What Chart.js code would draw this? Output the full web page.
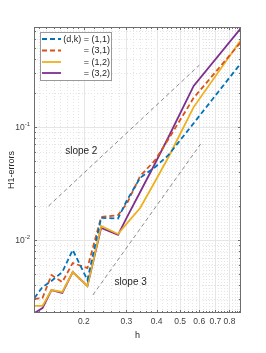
<!DOCTYPE html>
<html>
<head>
<meta charset="utf-8">
<script src="https://cdn.jsdelivr.net/npm/chart.js@4.4.0/dist/chart.umd.min.js"></script>
<style>
  body { margin: 0; background: #fff; }
  canvas { display: block; }
</style>
</head>
<body>
<canvas id="myChart" width="266" height="353"></canvas>
<script>
  // mesh sizes h and the H1 errors for each (d,k)
  const h = [0.125, 0.135, 0.147, 0.163, 0.180, 0.207, 0.236, 0.277, 0.302, 0.342, 0.395, 0.448, 0.569, 0.893]
  const err11 = [0.00307, 0.00384, 0.00434, 0.00521, 0.00816, 0.00443, 0.0157, 0.0155, 0.0226, 0.0355, 0.0443, 0.0566, 0.108, 0.368]
  const err31 = [0.00301, 0.00307, 0.00490, 0.00425, 0.00626, 0.00565, 0.0160, 0.0166, 0.0212, 0.0368, 0.0511, 0.0783, 0.181, 0.565]
  const err12 = [0.00261, 0.00261, 0.00361, 0.00347, 0.00521, 0.00392, 0.0133, 0.0113, 0.0141, 0.0192, 0.0333, 0.0543, 0.150, 0.589]
  const err32 = [0.00226, 0.00250, 0.00361, 0.00340, 0.00521, 0.00392, 0.0128, 0.0111, 0.0160, 0.0266, 0.0480, 0.0816, 0.231, 0.752]

  const seriesNames = ['(d,k) = (1,1)', '= (3,1)', '= (1,2)', '= (3,2)']
  const seriesColors = ['#0072BD', '#D95319', '#EDB120', '#7E2F8E']
  const seriesDashed = [true, true, false, false]

  // reference slopes
  const slope2H = [0.143, 0.6]
  const slope2E = [0.02, 0.352]
  const slope3H = [0.218, 0.608]
  const slope3E = [0.00326, 0.0707]

  // ticks
  const xTicks = [0.2, 0.3, 0.4, 0.5, 0.6, 0.7, 0.8]
  const yTicks = [0.01, 0.1]
  const yTickExp = ['-2', '-1']

  const FONT = 'Liberation Sans, Arial, sans-serif'

  function toPoints(xs, ys) {
    return xs.map((x, i) => ({ x: x, y: ys[i] }))
  }

  // minor ticks like matlab
  const xMinor = []
  for (let i = 13; i <= 89; i++) {
    if (i >= 20 && i % 2 == 1) continue
    if (i % 10 == 0) continue
    xMinor.push(i / 100)
  }
  const yMinor = []
  for (let p = -3; p <= -1; p++) {
    for (let k = 2; k <= 9; k++) yMinor.push(k * Math.pow(10, p))
  }

  const errs = [err11, err31, err12, err32]
  const datasets = [
    { data: toPoints(slope2H, slope2E), borderColor: '#5a5a5a', borderWidth: 0.7, borderDash: [4, 3] },
    { data: toPoints(slope3H, slope3E), borderColor: '#5a5a5a', borderWidth: 0.7, borderDash: [4, 3] }
  ]
  for (let i = 0; i < errs.length; i++) {
    datasets.push({
      data: toPoints(h, errs[i]),
      borderColor: seriesColors[i],
      borderWidth: 1.8,
      borderDash: seriesDashed[i] ? [5, 3] : []
    })
  }

  const matlabAxes = {
    id: 'matlabAxes',
    beforeDatasetsDraw(chart) {
      const ctx = chart.ctx
      const a = chart.chartArea
      const xs = chart.scales.x
      const ys = chart.scales.y
      ctx.save()
      ctx.lineWidth = 1
      // minor grid
      ctx.strokeStyle = '#e4e4e4'
      ctx.setLineDash([1, 2])
      xMinor.forEach(v => {
        const px = Math.round(xs.getPixelForValue(v)) + 0.5
        ctx.beginPath(); ctx.moveTo(px, a.top); ctx.lineTo(px, a.bottom); ctx.stroke()
      })
      yMinor.forEach(v => {
        if (v < ys.min || v > ys.max) return
        const py = Math.round(ys.getPixelForValue(v)) + 0.5
        ctx.beginPath(); ctx.moveTo(a.left, py); ctx.lineTo(a.right, py); ctx.stroke()
      })
      // major grid
      ctx.setLineDash([])
      ctx.strokeStyle = '#e6e6e6'
      xTicks.forEach(v => {
        const px = Math.round(xs.getPixelForValue(v)) + 0.5
        ctx.beginPath(); ctx.moveTo(px, a.top); ctx.lineTo(px, a.bottom); ctx.stroke()
      })
      yTicks.forEach(v => {
        const py = Math.round(ys.getPixelForValue(v)) + 0.5
        ctx.beginPath(); ctx.moveTo(a.left, py); ctx.lineTo(a.right, py); ctx.stroke()
      })
      ctx.restore()
    },
    afterDatasetsDraw(chart) {
      const ctx = chart.ctx
      const a = chart.chartArea
      const xs = chart.scales.x
      const ys = chart.scales.y
      ctx.save()
      // frame
      ctx.strokeStyle = '#6e6e6e'
      ctx.lineWidth = 1
      ctx.strokeRect(a.left + 0.5, a.top + 0.5, a.right - a.left - 1, a.bottom - a.top - 1)
      // tick marks inside on all sides
      function xTick(v, len) {
        const px = Math.round(xs.getPixelForValue(v)) + 0.5
        ctx.beginPath()
        ctx.moveTo(px, a.bottom); ctx.lineTo(px, a.bottom - len)
        ctx.moveTo(px, a.top); ctx.lineTo(px, a.top + len)
        ctx.stroke()
      }
      function yTick(v, len) {
        const py = Math.round(ys.getPixelForValue(v)) + 0.5
        ctx.beginPath()
        ctx.moveTo(a.left, py); ctx.lineTo(a.left + len, py)
        ctx.moveTo(a.right, py); ctx.lineTo(a.right - len, py)
        ctx.stroke()
      }
      xMinor.forEach(v => xTick(v, 2))
      xTicks.forEach(v => xTick(v, 3))
      yMinor.forEach(v => { if (v >= ys.min && v <= ys.max) yTick(v, 2) })
      yTicks.forEach(v => yTick(v, 3))

      // y tick labels 10^-n
      ctx.fillStyle = '#404040'
      ctx.textBaseline = 'middle'
      for (let i = 0; i < yTicks.length; i++) {
        const py = ys.getPixelForValue(yTicks[i])
        ctx.font = '6px ' + FONT
        ctx.textAlign = 'right'
        const supW = ctx.measureText(yTickExp[i]).width
        ctx.fillText(yTickExp[i], a.left - 4, py - 3)
        ctx.font = '8.5px ' + FONT
        ctx.fillText('10', a.left - 4 - supW, py + 1)
      }

      // slope labels
      ctx.fillStyle = '#262626'
      ctx.font = '10px ' + FONT
      ctx.textAlign = 'center'
      ctx.fillText('slope 2', xs.getPixelForValue(0.1953), ys.getPixelForValue(0.0613))
      ctx.fillText('slope 3', xs.getPixelForValue(0.3125), ys.getPixelForValue(0.00425))

      // legend
      const lx = 40, ly = 32, lw = 71, lh = 48
      ctx.fillStyle = '#fff'
      ctx.fillRect(lx, ly, lw, lh)
      ctx.strokeStyle = '#9a9a9a'
      ctx.strokeRect(lx + 0.5, ly + 0.5, lw, lh)
      const rows = [39, 50.5, 62, 73]
      ctx.font = '9px ' + FONT
      ctx.textAlign = 'right'
      for (let i = 0; i < seriesNames.length; i++) {
        ctx.strokeStyle = seriesColors[i]
        ctx.lineWidth = 1.8
        ctx.setLineDash(seriesDashed[i] ? [5, 3] : [])
        ctx.beginPath(); ctx.moveTo(42, rows[i]); ctx.lineTo(61, rows[i]); ctx.stroke()
        ctx.fillStyle = '#262626'
        ctx.fillText(seriesNames[i], 110, rows[i] + 0.5)
      }
      ctx.restore()
    }
  }

  const ctx = document.getElementById('myChart')

  new Chart(ctx, {
    type: 'scatter',
    data: { datasets: datasets },
    options: {
      responsive: false,
      animation: false,
      devicePixelRatio: 1,
      showLine: true,
      elements: { point: { radius: 0 }, line: { tension: 0 } },
      layout: { padding: { top: 27, right: 25, bottom: 12, left: 0 } },
      scales: {
        x: {
          type: 'logarithmic',
          min: 0.1245,
          max: 0.893,
          grid: { display: false, drawTicks: false },
          border: { display: false },
          afterBuildTicks: s => { s.ticks = xTicks.map(v => ({ value: v })) },
          afterFit: s => { s.height = 28 },
          ticks: {
            autoSkip: false, maxRotation: 0, padding: 4,
            color: '#404040', font: { size: 8.5, family: FONT },
            callback: v => String(v)
          },
          title: { display: true, text: 'h', color: '#262626', font: { size: 9, family: FONT }, padding: 0 }
        },
        y: {
          type: 'logarithmic',
          min: 0.00226,
          max: 0.767,
          grid: { display: false, drawTicks: false },
          border: { display: false },
          afterFit: s => { s.width = 34 },
          ticks: { display: false },
          title: { display: true, text: 'H1-errors', color: '#262626', font: { size: 9, family: FONT }, padding: { top: 6, bottom: 0 } }
        }
      },
      plugins: {
        legend: { display: false },
        tooltip: { enabled: false }
      }
    },
    plugins: [matlabAxes]
  })
</script>
</body>
</html>
